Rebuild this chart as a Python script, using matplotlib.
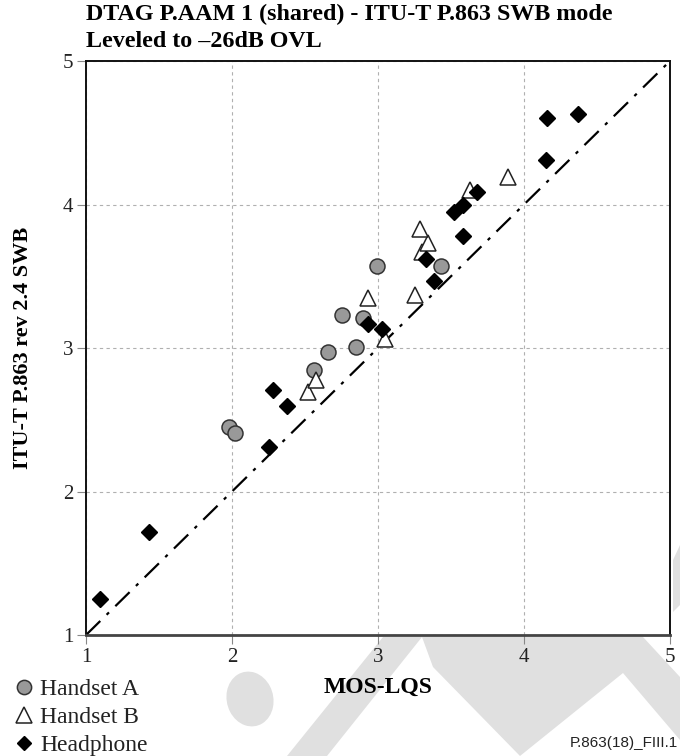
#######################################
# 1. modules
#######################################
import matplotlib

matplotlib.use("Agg")
import matplotlib.pyplot as plt
from matplotlib.lines import Line2D
from matplotlib.patches import Ellipse, Polygon

#######################################
# 2. data
#######################################
TITLE = "DTAG P.AAM 1 (shared) - ITU-T P.863 SWB mode\nLeveled to \u201326dB OVL"
X_LABEL = "MOS-LQS"
Y_LABEL = "ITU-T P.863 rev 2.4 SWB"
FIG_ID = "P.863(18)_FIII.1"
TICKS = [1, 2, 3, 4, 5]
SERIES = ["Handset A", "Handset B", "Headphone"]

handset_a_x = [1.98, 2.02, 2.56, 2.655, 2.85, 2.75, 2.90, 2.99, 3.43]
handset_a_y = [2.45, 2.405, 2.85, 2.97, 3.005, 3.23, 3.21, 3.57, 3.57]

handset_b_x = [2.52, 2.575, 2.93, 3.05, 3.25, 3.30, 3.34, 3.29, 3.63, 3.89]
handset_b_y = [2.69, 2.78, 3.35, 3.06, 3.37, 3.67, 3.73, 3.83, 4.10, 4.19]

headphone_x = [1.096, 1.43, 2.25, 2.28, 2.38, 2.93, 3.03, 3.33, 3.385,
               3.52, 3.58, 3.58, 3.68, 4.15, 4.16, 4.37]
headphone_y = [1.25, 1.72, 2.31, 2.71, 2.595, 3.17, 3.13, 3.62, 3.47,
               3.95, 4.00, 3.78, 4.09, 4.31, 4.60, 4.63]

#######################################
# 3. settings
#######################################
W, H = 680, 756
SERIF = ["Liberation Serif", "DejaVu Serif"]
WM_COLOR = "#e0e0e0"

# marker styles per series
STYLES = [
    dict(marker="o", markersize=10.8, markerfacecolor="#999999",
         markeredgecolor="#333333", markeredgewidth=1.1),
    dict(marker="^", markersize=11.5, markerfacecolor="white",
         markeredgecolor="#222222", markeredgewidth=1.1),
    dict(marker="D", markersize=7.8, markerfacecolor="black",
         markeredgecolor="black", markeredgewidth=1.0),
]


def fx(px):
    return px / W


def fy(py):
    return 1 - py / H


def draw_watermark(fig):
    # light grey "draft" shapes behind the chart (image pixel coords)
    shapes = [
        [(383, 637), (422, 637), (327, 756), (287, 756)],
        [(422, 637), (643, 637), (680, 677), (680, 740), (623, 673),
         (520, 756), (433, 667)],
        [(673, 560), (680, 545), (680, 605), (673, 612)],
    ]
    for pts in shapes:
        fig.patches.append(Polygon([(fx(x), fy(y)) for x, y in pts],
                                   closed=True, transform=fig.transFigure,
                                   facecolor=WM_COLOR, edgecolor="none",
                                   zorder=-5))
    fig.patches.append(Ellipse((fx(250), fy(699)), fx(46), 56 / H, angle=30,
                               transform=fig.transFigure, facecolor=WM_COLOR,
                               edgecolor="none", zorder=-5))


#######################################
# 4. main
#######################################
def main():
    plt.rcParams["font.family"] = SERIF
    fig = plt.figure(figsize=(W / 100, H / 100), dpi=100)
    draw_watermark(fig)

    ax = fig.add_axes([fx(86), fy(635), fx(670 - 86), (635 - 61) / H])
    ax.set_xlim(TICKS[0], TICKS[-1])
    ax.set_ylim(TICKS[0], TICKS[-1])
    ax.set_xticks(TICKS)
    ax.set_yticks(TICKS)
    ax.grid(True, color="#b0b0b0", linestyle=(0, (3, 3)), linewidth=0.8)
    ax.set_axisbelow(True)
    ax.tick_params(direction="out", length=6.5, width=0.8, color="#888888",
                   labelsize=15, labelcolor="#222222", pad=2.5)
    for spine in ax.spines.values():
        spine.set_linewidth(1.4)
        spine.set_color("#111111")
    ax.spines["bottom"].set_linewidth(2.0)
    ax.spines["bottom"].set_color("#444444")

    lims = [TICKS[0], TICKS[-1]]
    ax.plot(lims, lims, color="black", linewidth=1.6,
            linestyle=(0, (9, 4, 1.5, 4)), zorder=2)

    data = [(handset_a_x, handset_a_y), (handset_b_x, handset_b_y),
            (headphone_x, headphone_y)]
    for i, (xs, ys) in enumerate(data):
        ax.plot(xs, ys, linestyle="none", zorder=3 + i, **STYLES[i])

    ax.set_xlabel(X_LABEL, fontsize=17, fontweight="bold")
    ax.xaxis.label.set_va("center")
    ax.xaxis.set_label_coords(0.5, (635 - 687) / 574)
    ax.set_ylabel(Y_LABEL, fontsize=16, fontweight="bold")
    ax.yaxis.label.set_va("center")
    ax.yaxis.set_label_coords((23 - 86) / 584, 0.5)

    fig.text(fx(86), fy(4), TITLE, ha="left", va="top", fontsize=17.3,
             fontweight="bold", linespacing=1.38)

    # legend in the lower-left corner
    for i, name in enumerate(SERIES):
        row_y = fy(687 + 28 * i)
        style = dict(STYLES[i])
        style["markersize"] = style["markersize"] * 0.95
        fig.add_artist(Line2D([fx(24)], [row_y], transform=fig.transFigure,
                              linestyle="none", **style))
        fig.text(fx(40), row_y, name, ha="left", va="center_baseline",
                 fontsize=17, color="#222222")

    fig.text(fx(678), fy(743), FIG_ID, ha="right", va="center", fontsize=11,
             family=["Liberation Sans", "DejaVu Sans"], color="#222222")

    fig.savefig("out.png", dpi=100)


#######################################
# 5. run
#######################################
if __name__ == "__main__":
    main()
